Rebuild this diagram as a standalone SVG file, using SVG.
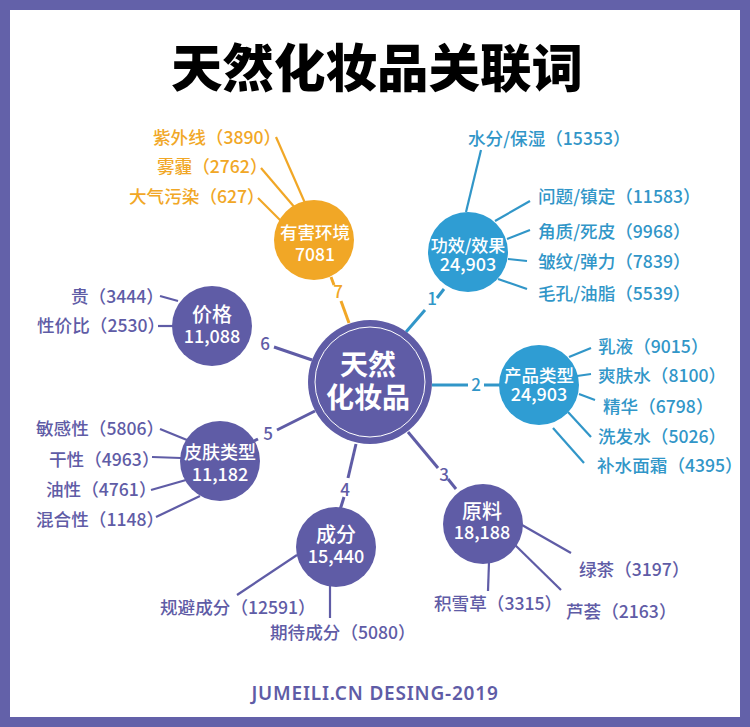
<svg xmlns="http://www.w3.org/2000/svg" width="750" height="727" viewBox="0 0 750 727">
<style>
text{font-family:"Noto Sans CJK SC","Noto Sans",sans-serif;font-weight:500}
.p text,text.p{fill:#5f5ca6}.b text,text.b{fill:#3196c8}.o text,text.o{fill:#f1a726}
.lab{font-size:17.6px}
.m{text-anchor:middle;fill:#fff}
.c line{stroke-width:3;fill:none}
.c .t{stroke-width:2.2}
.cp line{stroke:#5f5ca6}.cb line{stroke:#3196c8}.co line{stroke:#f1a726}
.n{font-size:17px;text-anchor:middle}
</style>
<rect width="750" height="727" fill="#6361a9"/>
<rect x="10" y="10" width="730" height="707" fill="#fff"/>
<text id="title" x="377" y="87" text-anchor="middle" font-size="51.5" style="font-weight:900" fill="#000">天然化妆品关联词</text>
<g id="connectors" class="c">
<g class="co">
<line x1="349" y1="323" x2="341" y2="301"/><line x1="334" y1="285" x2="331" y2="277"/>
<line class="t" x1="305" y1="203" x2="276" y2="137"/><line class="t" x1="296" y1="209" x2="261" y2="168"/><line class="t" x1="281" y1="221" x2="258" y2="198"/>
</g>
<g class="cb">
<line x1="406" y1="332" x2="425" y2="310"/><line x1="437" y1="298" x2="444" y2="289"/>
<line x1="432" y1="385" x2="468" y2="385"/><line x1="484" y1="385" x2="500" y2="385"/>
<line class="t" x1="466" y1="212" x2="481" y2="150"/><line class="t" x1="495" y1="221" x2="530" y2="201"/><line class="t" x1="507" y1="239" x2="530" y2="230"/><line class="t" x1="508" y1="259" x2="527" y2="261"/><line class="t" x1="498" y1="279" x2="527" y2="289"/>
<line class="t" x1="569" y1="357" x2="591" y2="348"/><line class="t" x1="577" y1="376" x2="591" y2="374"/><line class="t" x1="579" y1="394" x2="595" y2="400"/><line class="t" x1="568" y1="412" x2="591" y2="437"/><line class="t" x1="553" y1="428" x2="584" y2="463"/>
</g>
<g class="cp">
<line x1="408" y1="432" x2="438" y2="468"/><line x1="448" y1="479" x2="456" y2="489"/>
<line x1="356" y1="444" x2="348" y2="478"/><line x1="344" y1="497" x2="340" y2="510"/>
<line x1="315" y1="411" x2="277" y2="430"/><line x1="258" y1="439" x2="254" y2="441"/>
<line x1="312" y1="360" x2="274" y2="347"/>
<line class="t" x1="522" y1="525" x2="571" y2="553"/><line class="t" x1="512" y1="542" x2="561" y2="590"/><line class="t" x1="489" y1="562" x2="488" y2="591"/>
<line class="t" x1="330" y1="586" x2="330" y2="618"/><line class="t" x1="297" y1="555" x2="237" y2="595"/>
<line class="t" x1="187" y1="440" x2="160" y2="429"/><line class="t" x1="181" y1="458" x2="152" y2="457"/><line class="t" x1="186" y1="480" x2="151" y2="490"/><line class="t" x1="200" y1="496" x2="156" y2="517"/>
<line class="t" x1="178" y1="301" x2="160" y2="296"/><line class="t" x1="173" y1="326" x2="158" y2="326"/>
</g>
</g>
<g id="n1" class="b"><text class="n" x="432" y="305">1</text></g>
<g id="n2" class="b"><text class="n" x="476" y="391">2</text></g>
<g id="n3" class="p"><text class="n" x="444" y="481">3</text></g>
<g id="n4" class="p"><text class="n" x="345" y="496">4</text></g>
<g id="n5" class="p"><text class="n" x="268" y="440">5</text></g>
<g id="n6" class="p"><text class="n" x="265" y="350">6</text></g>
<g id="n7" class="o"><text class="n" x="338" y="298">7</text></g>
<g id="center"><circle cx="370" cy="382" r="62" fill="#5f5ca6"/><circle cx="370" cy="382" r="55" fill="none" stroke="#fff" stroke-width="1"/>
<text class="m" x="368" y="375" font-size="28" style="font-weight:700">天然</text><text class="m" x="368" y="408" font-size="28" style="font-weight:700">化妆品</text></g>
<g id="hazard"><circle cx="314" cy="240" r="40" fill="#f1a726"/><text class="m" x="315" y="239" font-size="17.5">有害环境</text><text class="m" x="315" y="261" font-size="17.5">7081</text></g>
<g id="effect"><circle cx="468" cy="252" r="40" fill="#2f9dd3"/><text class="m" x="468" y="252" font-size="17">功效/效果</text><text class="m" x="468" y="271" font-size="18">24,903</text></g>
<g id="product"><circle cx="539" cy="385" r="40" fill="#2f9dd3"/><text class="m" x="539" y="382" font-size="17.5">产品类型</text><text class="m" x="539" y="401" font-size="18">24,903</text></g>
<g id="material"><circle cx="483" cy="524" r="40" fill="#5f5ca6"/><text class="m" x="482" y="519" font-size="20">原料</text><text class="m" x="482" y="539" font-size="18">18,188</text></g>
<g id="ingredient"><circle cx="336" cy="547" r="40" fill="#5f5ca6"/><text class="m" x="336" y="542" font-size="20">成分</text><text class="m" x="336" y="563" font-size="18">15,440</text></g>
<g id="skin"><circle cx="220" cy="461" r="40" fill="#5f5ca6"/><text class="m" x="220" y="459" font-size="18">皮肤类型</text><text class="m" x="220" y="481" font-size="18">11,182</text></g>
<g id="price"><circle cx="212" cy="326" r="40" fill="#5f5ca6"/><text class="m" x="212" y="322" font-size="20">价格</text><text class="m" x="212" y="343" font-size="18">11,088</text></g>
<g class="o lab">
<text x="153" y="144">紫外线（3890）</text><text x="157" y="173">雾霾（2762）</text><text x="129" y="203">大气污染（627）</text>
</g>
<g class="b lab">
<text x="468" y="145">水分/保湿（15353）</text><text x="538" y="203">问题/镇定（11583）</text><text x="538" y="238">角质/死皮（9968）</text><text x="538" y="268">皱纹/弹力（7839）</text><text x="538" y="300">毛孔/油脂（5539）</text>
<text x="598" y="353">乳液（9015）</text><text x="598" y="382">爽肤水（8100）</text><text x="603" y="413">精华（6798）</text><text x="598" y="443">洗发水（5026）</text><text x="597" y="472">补水面霜（4395）</text>
</g>
<g class="p lab">
<text x="579" y="576">绿茶（3197）</text><text x="566" y="618">芦荟（2163）</text><text x="434" y="610">积雪草（3315）</text>
<text x="270" y="639">期待成分（5080）</text><text x="160" y="614">规避成分（12591）</text>
<text x="36" y="435">敏感性（5806）</text><text x="49" y="466">干性（4963）</text><text x="46" y="496">油性（4761）</text><text x="36" y="526">混合性（1148）</text>
<text x="71" y="303">贵（3444）</text><text x="37" y="332">性价比（2530）</text>
</g>
<text id="footer" x="375" y="700" text-anchor="middle" font-size="19" letter-spacing="0.8" fill="#5f5ca6" style="font-family:'Noto Sans','Liberation Sans',sans-serif;font-weight:600">JUMEILI.CN DESING-2019</text>
</svg>
